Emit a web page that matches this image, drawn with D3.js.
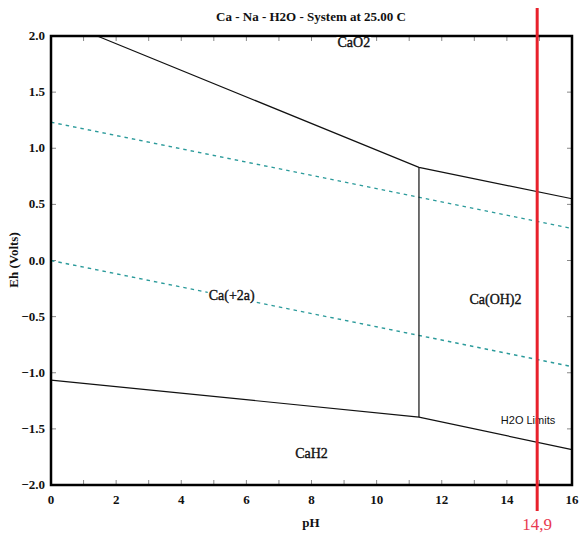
<!DOCTYPE html>
<html><head><meta charset="utf-8">
<script src="https://cdn.jsdelivr.net/npm/d3@7"></script>
<style>body{margin:0;background:#fff}svg{display:block}</style>
</head><body>
<script>
// Data
const xTicks = [0,2,4,6,8,10,12,14,16];
const yTicks = [2.0,1.5,1.0,0.5,0.0,-0.5,-1.0,-1.5,-2.0];
const upperBoundary = [[1.42,2.0],[11.3,0.83],[16,0.55]];   // CaO2 / Ca(+2a), Ca(OH)2
const lowerBoundary = [[0,-1.065],[11.3,-1.395],[16,-1.685]]; // CaH2
const verticalBoundary = [[11.3,0.83],[11.3,-1.395]];
const waterUpper = [[0,1.232],[16,0.285]];
const waterLower = [[0,0.0],[16,-0.945]];
const regionLabels = [
  {text:"CaO2", ph:9.3, eh:1.93, bg:true},
  {text:"Ca(+2a)", ph:5.55, eh:-0.32, bg:true},
  {text:"Ca(OH)2", ph:13.65, eh:-0.36, bg:true},
  {text:"CaH2", ph:8.0, eh:-1.73, bg:false}
];
const markerPH = 14.9;
const markerLabel = "14,9";

const W=581,H=539;
const svg=d3.select("body").append("svg").attr("width",W).attr("height",H);
const x=d3.scaleLinear().domain([0,16]).range([51,572]);
const y=d3.scaleLinear().domain([-2,2]).range([485,36]);
const serif="'Liberation Serif','Times New Roman',serif";

// minor ticks (inward)
const tickCol="#888";
const g=svg.append("g");
d3.range(1,16).forEach(v=>{
  g.append("line").attr("x1",x(v)).attr("x2",x(v)).attr("y1",y(-2)).attr("y2",y(-2)-5).attr("stroke",tickCol);
  g.append("line").attr("x1",x(v)).attr("x2",x(v)).attr("y1",y(2)).attr("y2",y(2)+5).attr("stroke",tickCol);
});
yTicks.slice(1,-1).forEach(v=>{
  g.append("line").attr("x1",x(0)).attr("x2",x(0)+5).attr("y1",y(v)).attr("y2",y(v)).attr("stroke",tickCol);
  g.append("line").attr("x1",x(16)).attr("x2",x(16)-5).attr("y1",y(v)).attr("y2",y(v)).attr("stroke",tickCol);
});

const line=d3.line().x(d=>x(d[0])).y(d=>y(d[1]));
// water limits
[waterUpper,waterLower].forEach(d=>{
  svg.append("path").attr("d",line(d)).attr("fill","none").attr("stroke","#2a9a9a").attr("stroke-width",1.4).attr("stroke-dasharray","3.5,4");
});
// boundaries
[upperBoundary,lowerBoundary,verticalBoundary].forEach(d=>{
  svg.append("path").attr("d",line(d)).attr("fill","none").attr("stroke","#111").attr("stroke-width",1.2);
});

// frame
svg.append("rect").attr("x",x(0)).attr("y",y(2)).attr("width",x(16)-x(0)).attr("height",y(-2)-y(2))
  .attr("fill","none").attr("stroke","#000").attr("stroke-width",2.5);

// region labels
regionLabels.forEach(l=>{
  const t=svg.append("text").attr("x",x(l.ph)).attr("y",y(l.eh)).attr("text-anchor","middle").attr("dominant-baseline","middle")
    .attr("font-family",serif).attr("font-size",14).attr("fill","#111").attr("stroke","#111").attr("stroke-width",0.35).text(l.text);
  if(l.bg){
    const b=t.node().getBBox();
    svg.insert("rect",()=>t.node()).attr("x",b.x-1).attr("y",b.y+2).attr("width",b.width+2).attr("height",b.height-3).attr("fill","#fff");
  }
});
svg.append("text").attr("x",x(14.65)).attr("y",y(-1.43)).attr("text-anchor","middle").attr("dominant-baseline","middle")
  .attr("font-family","'Liberation Sans',Arial,sans-serif").attr("font-size",11).attr("fill","#111").text("H2O Limits");

// tick labels
xTicks.forEach(v=>{
  svg.append("text").attr("x",x(v)).attr("y",504).attr("text-anchor","middle").attr("font-family",serif)
    .attr("font-weight","bold").attr("font-size",13).attr("fill","#111").text(v);
});
yTicks.forEach(v=>{
  svg.append("text").attr("x",45).attr("y",y(v)+4).attr("text-anchor","end").attr("font-family",serif)
    .attr("font-weight","bold").attr("font-size",13).attr("fill","#111").text(d3.format(".1f")(v));
});

// titles
svg.append("text").attr("x",311).attr("y",21).attr("text-anchor","middle").attr("font-family",serif)
  .attr("font-weight","bold").attr("font-size",13).attr("fill","#111").text("Ca - Na - H2O - System at 25.00 C");
svg.append("text").attr("x",311).attr("y",527).attr("text-anchor","middle").attr("font-family",serif)
  .attr("font-weight","bold").attr("font-size",13).attr("fill","#111").text("pH");
svg.append("text").attr("transform","translate(18,260) rotate(-90)").attr("text-anchor","middle").attr("font-family",serif)
  .attr("font-weight","bold").attr("font-size",13).attr("fill","#111").text("Eh (Volts)");

// red marker
svg.append("line").attr("x1",x(markerPH)+1).attr("x2",x(markerPH)+1).attr("y1",8).attr("y2",511)
  .attr("stroke","#e8212b").attr("stroke-width",3);
svg.append("text").attr("x",x(markerPH)+1).attr("y",530).attr("text-anchor","middle").attr("font-family",serif)
  .attr("font-size",17).attr("fill","#e83a50").text(markerLabel);
</script>
</body></html>
